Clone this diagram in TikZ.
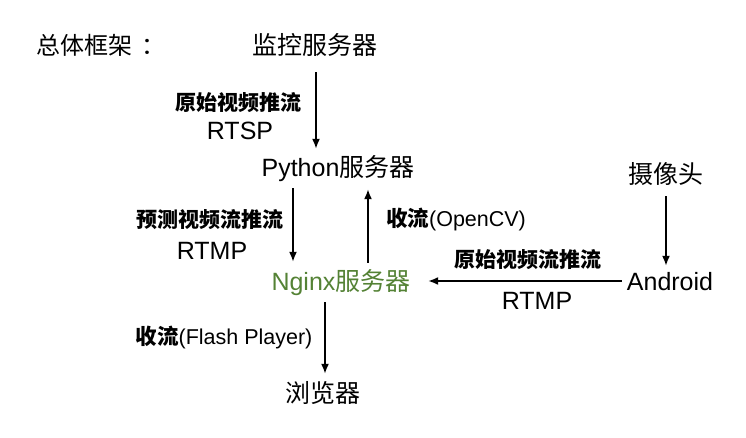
\documentclass[tikz,border=0pt]{standalone}
\usepackage{fontspec}
\setmainfont{Liberation Sans}
\newfontfamily\cjk{Noto Sans CJK SC}
\usetikzlibrary{arrows.meta}
\definecolor{nginxgreen}{RGB}{84,130,53}

\begin{document}
\begin{tikzpicture}[x=1pt,y=-1pt]
        \tikzset{srv/.style={font=\fontsize{25}{28}\selectfont, inner sep=1pt, text height=21.5pt, text depth=3.5pt},
                 lbl/.style={font=\fontsize{21}{24}\selectfont\cjk\bfseries, inner sep=1pt},
                 proto/.style={font=\fontsize{25}{28}\selectfont, inner sep=1pt},
                 mixed/.style={font=\fontsize{21.5}{24}\selectfont, inner sep=1pt},
                 flow/.style={-{Latex[length=10pt, width=8pt]}, line width=1.7pt}}
        \useasboundingbox (0,0) rectangle (746,438);

        % servers and devices
        \node[srv, font=\fontsize{24}{28}\selectfont\cjk] (title) at (101,46) {总体框架\hspace{9pt}：};
        \node[srv] (mon) at (315,46) {\cjk 监控服务器};
        \node[srv] (py) at (338,168) {Python{\cjk 服务器}};
        \node[srv, text=nginxgreen] (ng) at (341,281) {Nginx{\cjk 服务器}};
        \node[srv] (cam) at (666,175) {\cjk 摄像头};
        \node[srv] (andr) at (670,281) {Android};
        \node[srv] (brow) at (323,393) {\cjk 浏览器};

        % stream labels
        \node[lbl] (rawlbl) at (238,103) {原始视频推流};
        \node[proto] (rtsp) at (240,131) {RTSP};
        \node[lbl] (predlbl) at (210,220) {预测视频流推流};
        \node[proto] (rtmpa) at (212,251) {RTMP};
        \node[mixed] (cvlbl) at (456,220) {{\cjk\bfseries 收流}(OpenCV)};
        \node[lbl] (andlbl) at (528,260) {原始视频流推流};
        \node[proto] (rtmpb) at (537,301) {RTMP};
        \node[mixed] (flashlbl) at (224,338) {{\cjk\bfseries 收流}(Flash Player)};

        % streams
        \draw[flow, shorten <=12.5pt, shorten >=5.5pt] ([xshift=1pt]mon.south) -- ([xshift=1pt]mon.south |- py.north);
        \draw[flow, shorten <=6.5pt, shorten >=5.5pt] ([xshift=-45pt]py.south) -- ([xshift=-45pt]py.south |- ng.north);
        \draw[flow, shorten <=4.5pt, shorten >=7.5pt] ([xshift=27pt]ng.north) -- ([xshift=27pt]ng.north |- py.south);
        \draw[flow, shorten <=7.5pt, shorten >=1.5pt] (cam.south) -- (cam.south |- andr.north);
        \draw[flow, shorten <=4pt, shorten >=16.5pt] (andr.west) -- (andr.west -| ng.east);
        \draw[flow, shorten <=7.5pt, shorten >=5.5pt] ([xshift=-16pt]ng.south) -- ([xshift=-16pt]ng.south |- brow.north);
\end{tikzpicture}
\end{document}
